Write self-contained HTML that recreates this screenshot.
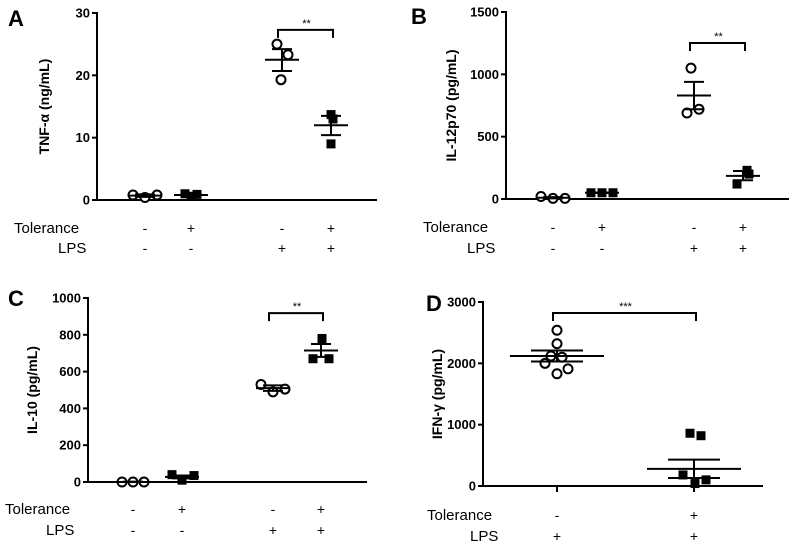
<!DOCTYPE html>
<html><head><meta charset="utf-8"><style>
html,body{margin:0;padding:0;background:#fff;}
svg{display:block;font-family:"Liberation Sans",Arial,sans-serif;}
</style></head><body>
<svg id="fig" width="795" height="552" viewBox="0 0 795 552"></svg>
<script>
// Panel A data
const aTicks=[0,10,20,30];
const aG1=[0.8,0.4,0.8], aG2=[1.0,0.6,0.9], aG3=[25,23.3,19.3], aG4=[13.7,9.0,13.0];
const aMeans=[0.7,0.8,22.5,12.0], aSemHi=[0.9,1.0,24.2,13.5], aSemLo=[0.5,0.6,20.7,10.4];
// Panel B data
const bTicks=[0,500,1000,1500];
const bG1=[20,5,5], bG2=[50,50,50], bG3=[1050,720,690], bG4=[230,200,120];
const bMeans=[10,50,830,185], bSemHi=[15,52,940,225], bSemLo=[5,48,720,150];
// Panel C data
const cTicks=[0,200,400,600,800,1000];
const cG1=[0,0,0], cG2=[40,10,35], cG3=[530,490,505], cG4=[780,670,670];
const cMeans=[0,28,510,715], cSemHi=[2,35,525,750], cSemLo=[0,20,495,680];
// Panel D data
const dTicks=[0,1000,2000,3000];
const dG1=[2540,2320,2120,2100,2000,1910,1830], dG2=[860,820,180,100,40];
const dMeans=[2120,280], dSemHi=[2210,430], dSemLo=[2030,130];

const NS="http://www.w3.org/2000/svg";
const svg=document.getElementById('fig');
function el(tag,attrs,parent,text){const e=document.createElementNS(NS,tag);for(const k in attrs)e.setAttribute(k,attrs[k]);if(text!==undefined)e.textContent=text;(parent||svg).appendChild(e);return e;}

function panel(p){
  const g=el('g',{});
  
  
  const y=v=>p.y0+(p.y1-p.y0)*(v/p.max);
  const lt=el('text',{x:p.lx,y:p.ly,'font-size':22,'font-weight':'bold'},g,p.letter);
  
  
  const ax=el('line',{x1:p.ax,y1:p.y1-1,x2:p.ax,y2:p.y0,stroke:'#000','stroke-width':2},g);
  
  
  const xx=el('line',{x1:p.ax,y1:p.y0,x2:p.xend,y2:p.y0,stroke:'#000','stroke-width':2},g);
  
  
  p.ticks.forEach(t=>{
    el('line',{x1:p.ax-5,y1:y(t),x2:p.ax,y2:y(t),stroke:'#000','stroke-width':2},g);
    const tl=el('text',{x:p.ax-7,y:y(t)+4.5,'font-size':13,'font-weight':'bold','text-anchor':'end'},g,t);
    
    
  });
  const cy=(p.y0+p.y1)/2;
  const yt=el('text',{x:p.tx,y:cy,'font-size':14,'font-weight':'bold','text-anchor':'middle',transform:`rotate(-90 ${p.tx} ${cy})`},g,p.title);
  
  
  if(p.xticks){p.gx.forEach(x=>el('line',{x1:x,y1:p.y0,x2:x,y2:p.y0+6,stroke:'#000','stroke-width':2},g));}
  p.groups.forEach((vals,i)=>{
    const cx=p.gx[i];
    const offs=p.offs[i];
    vals.forEach((v,j)=>{
      const px=cx+offs[j];
      let m;
      if(p.filled[i]){m=el('rect',{x:px-4.5,y:y(v)-4.5,width:9,height:9,fill:'#000'},g);}
      else{m=el('circle',{cx:px,cy:y(v),r:4.5,fill:'#fff',stroke:'#000','stroke-width':2},g);}
      
      
    });
    const mw=p.mw, sw=p.sw;
    const ml=el('line',{x1:cx-mw,y1:y(p.means[i]),x2:cx+mw,y2:y(p.means[i]),stroke:'#000','stroke-width':2},g);
    
    
    el('line',{x1:cx,y1:y(p.hi[i]),x2:cx,y2:y(p.lo[i]),stroke:'#000','stroke-width':2},g);
    el('line',{x1:cx-sw,y1:y(p.hi[i]),x2:cx+sw,y2:y(p.hi[i]),stroke:'#000','stroke-width':2},g);
    el('line',{x1:cx-sw,y1:y(p.lo[i]),x2:cx+sw,y2:y(p.lo[i]),stroke:'#000','stroke-width':2},g);
  });
  // bracket
  const b=p.br, by=y(b.v);
  const bp=el('path',{d:`M${p.gx[b.a]-4} ${by+8}V${by}H${p.gx[b.b]+2}V${by+8}`,fill:'none',stroke:'#000','stroke-width':2},g);
  
  
  const st=el('text',{x:(p.gx[b.a]+p.gx[b.b])/2,y:by-3,'font-size':11,'text-anchor':'middle'},g,b.s);
  
  
  // condition rows
  const r1=el('text',{x:p.rlx,y:p.r1,'font-size':15},g,'Tolerance');
  
  
  const r2=el('text',{x:p.rlx+ (p.id==='c'?41:44)+ (p.id==='d'?-1:0),y:p.r2,'font-size':15},g,'LPS');
  
  
  p.tol.forEach((s,i)=>{const t=el('text',{x:p.gx[i],y:p.r1,'font-size':14,'text-anchor':'middle'},g,s);});
  p.lps.forEach((s,i)=>{const t=el('text',{x:p.gx[i],y:p.r2,'font-size':14,'text-anchor':'middle'},g,s);});
}
const o3=[[-12,0,12],[-8,0,8],[-5,6,-1],[0,0,3]];
panel({id:'a',letter:'A',lx:8,ly:26,ax:97,y0:200,y1:13,max:30,xend:377,ticks:aTicks,tx:49,title:'TNF-\u03b1  (ng/mL)',
  gx:[145,191,282,331],groups:[aG1,aG2,aG3,aG4],filled:[0,1,0,1],offs:[[-12,0,12],[-6,0,6],[-5,6,-1],[0,0,2]],
  means:aMeans,hi:aSemHi,lo:aSemLo,mw:17,sw:10,br:{v:27.3,a:2,b:3,s:'**'},rlx:14,r1:233,r2:253,
  tol:['-','+','-','+'],lps:['-','-','+','+']});
panel({id:'b',letter:'B',lx:411,ly:24,ax:506,y0:199,y1:12,max:1500,xend:789,ticks:bTicks,tx:456,title:'IL-12p70 (pg/mL)',
  gx:[553,602,694,743],groups:[bG1,bG2,bG3,bG4],filled:[0,1,0,1],offs:[[-12,0,12],[-11,0,11],[-3,5,-7],[4,6,-6]],
  means:bMeans,hi:bSemHi,lo:bSemLo,mw:17,sw:10,br:{v:1251,a:2,b:3,s:'**'},rlx:423,r1:232,r2:253,
  tol:['-','+','-','+'],lps:['-','-','+','+']});
panel({id:'c',letter:'C',lx:8,ly:306,ax:88,y0:482,y1:298,max:1000,xend:367,ticks:cTicks,tx:37,title:'IL-10  (pg/mL)',
  gx:[133,182,273,321],groups:[cG1,cG2,cG3,cG4],filled:[0,1,0,1],offs:[[-11,0,11],[-10,0,12],[-12,0,12],[1,-8,8]],
  means:cMeans,hi:cSemHi,lo:cSemLo,mw:17,sw:10,br:{v:918,a:2,b:3,s:'**'},rlx:5,r1:514,r2:535,
  tol:['-','+','-','+'],lps:['-','-','+','+']});
panel({id:'d',letter:'D',lx:426,ly:311,ax:483,y0:486,y1:302,max:3000,xend:763,ticks:dTicks,tx:442,title:'IFN-\u03b3 (pg/mL)',xticks:true,
  gx:[557,694],groups:[dG1,dG2],filled:[0,1],offs:[[0,0,-6,5,-12,11,0],[-4,7,-11,12,1]],
  means:dMeans,hi:dSemHi,lo:dSemLo,mw:47,sw:26,br:{v:2820,a:0,b:1,s:'***'},rlx:427,r1:520,r2:541,
  tol:['-','+'],lps:['+','+']});
</script>
</body></html>
